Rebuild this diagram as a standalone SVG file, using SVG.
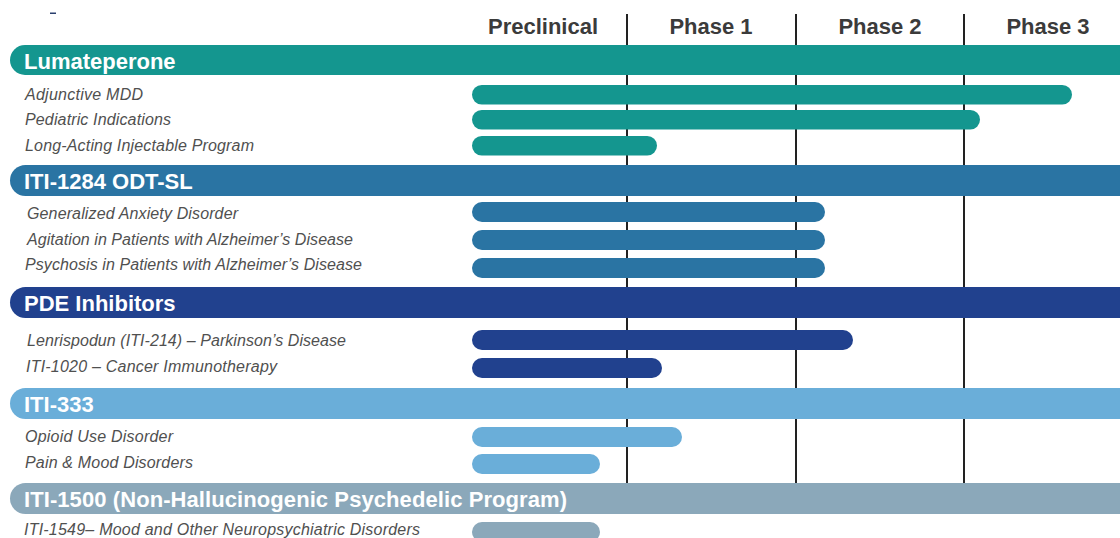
<svg xmlns="http://www.w3.org/2000/svg" width="1120" height="538" viewBox="0 0 1120 538">
<style>
.hdr{font-family:"Liberation Sans",Arial,sans-serif;font-weight:bold;font-size:22px;fill:#3b3b3b;text-anchor:middle}
.band-t{font-family:"Liberation Sans",Arial,sans-serif;font-weight:bold;font-size:22px;fill:#ffffff}
.sub{font-family:"Liberation Sans",Arial,sans-serif;font-style:italic;font-size:16px;fill:#505050}
.grid{stroke:#222222;stroke-width:2}
.c1{fill:#14968f}.c2{fill:#2a74a3}.c3{fill:#21418e}.c4{fill:#6aaed9}.c5{fill:#8ba8ba}
</style>
<rect width="1120" height="538" fill="#ffffff"/>
<rect x="50" y="12.5" width="6" height="1.5" fill="#2a3f6e"/>
<g id="header">
<text class="hdr" x="543" y="34">Preclinical</text>
<text class="hdr" x="711" y="34">Phase 1</text>
<text class="hdr" x="880" y="34">Phase 2</text>
<text class="hdr" x="1048" y="34">Phase 3</text>
</g>
<g id="connectors">
<line class="grid" x1="627" y1="14" x2="627" y2="483"/>
<line class="grid" x1="796" y1="14" x2="796" y2="483"/>
<line class="grid" x1="964" y1="14" x2="964" y2="483"/>
</g>
<g id="lumateperone">
<rect class="c1" x="10" y="45" width="1140" height="30" rx="15"/>
<text class="band-t" x="24" y="69">Lumateperone</text>
<text class="sub" x="25" y="100" textLength="118">Adjunctive MDD</text>
<rect class="c1" x="472" y="85" width="600" height="19.5" rx="9.75"/>
<text class="sub" x="25" y="125" textLength="146">Pediatric Indications</text>
<rect class="c1" x="472" y="110" width="508" height="19.5" rx="9.75"/>
<text class="sub" x="25" y="151" textLength="229">Long-Acting Injectable Program</text>
<rect class="c1" x="472" y="136" width="185" height="19.5" rx="9.75"/>
</g>
<g id="iti-1284">
<rect class="c2" x="10" y="165" width="1140" height="31" rx="15.5"/>
<text class="band-t" x="24" y="189">ITI-1284 ODT-SL</text>
<text class="sub" x="27" y="219" textLength="211">Generalized Anxiety Disorder</text>
<rect class="c2" x="472" y="202" width="353" height="20" rx="10"/>
<text class="sub" x="27" y="245" textLength="326">Agitation in Patients with Alzheimer’s Disease</text>
<rect class="c2" x="472" y="230" width="353" height="20" rx="10"/>
<text class="sub" x="25" y="270" textLength="337">Psychosis in Patients with Alzheimer’s Disease</text>
<rect class="c2" x="472" y="258" width="353" height="20" rx="10"/>
</g>
<g id="pde-inhibitors">
<rect class="c3" x="10" y="287" width="1140" height="31" rx="15.5"/>
<text class="band-t" x="24" y="311">PDE Inhibitors</text>
<text class="sub" x="27" y="346" textLength="319">Lenrispodun (ITI-214) – Parkinson’s Disease</text>
<rect class="c3" x="472" y="330" width="381" height="20" rx="10"/>
<text class="sub" x="26" y="372" textLength="251">ITI-1020 – Cancer Immunotherapy</text>
<rect class="c3" x="472" y="358" width="190" height="20" rx="10"/>
</g>
<g id="iti-333">
<rect class="c4" x="10" y="388" width="1140" height="31" rx="15.5"/>
<text class="band-t" x="24" y="412">ITI-333</text>
<text class="sub" x="25" y="442" textLength="148">Opioid Use Disorder</text>
<rect class="c4" x="472" y="427" width="210" height="20" rx="10"/>
<text class="sub" x="25" y="468" textLength="168">Pain &amp; Mood Disorders</text>
<rect class="c4" x="472" y="454" width="128" height="20" rx="10"/>
</g>
<g id="iti-1500">
<rect class="c5" x="10" y="483" width="1140" height="31" rx="15.5"/>
<text class="band-t" x="24" y="507" textLength="543">ITI-1500 (Non-Hallucinogenic Psychedelic Program)</text>
<text class="sub" x="24" y="535" textLength="396">ITI-1549– Mood and Other Neuropsychiatric Disorders</text>
<rect class="c5" x="472" y="522" width="128" height="20" rx="10"/>
</g>
</svg>
